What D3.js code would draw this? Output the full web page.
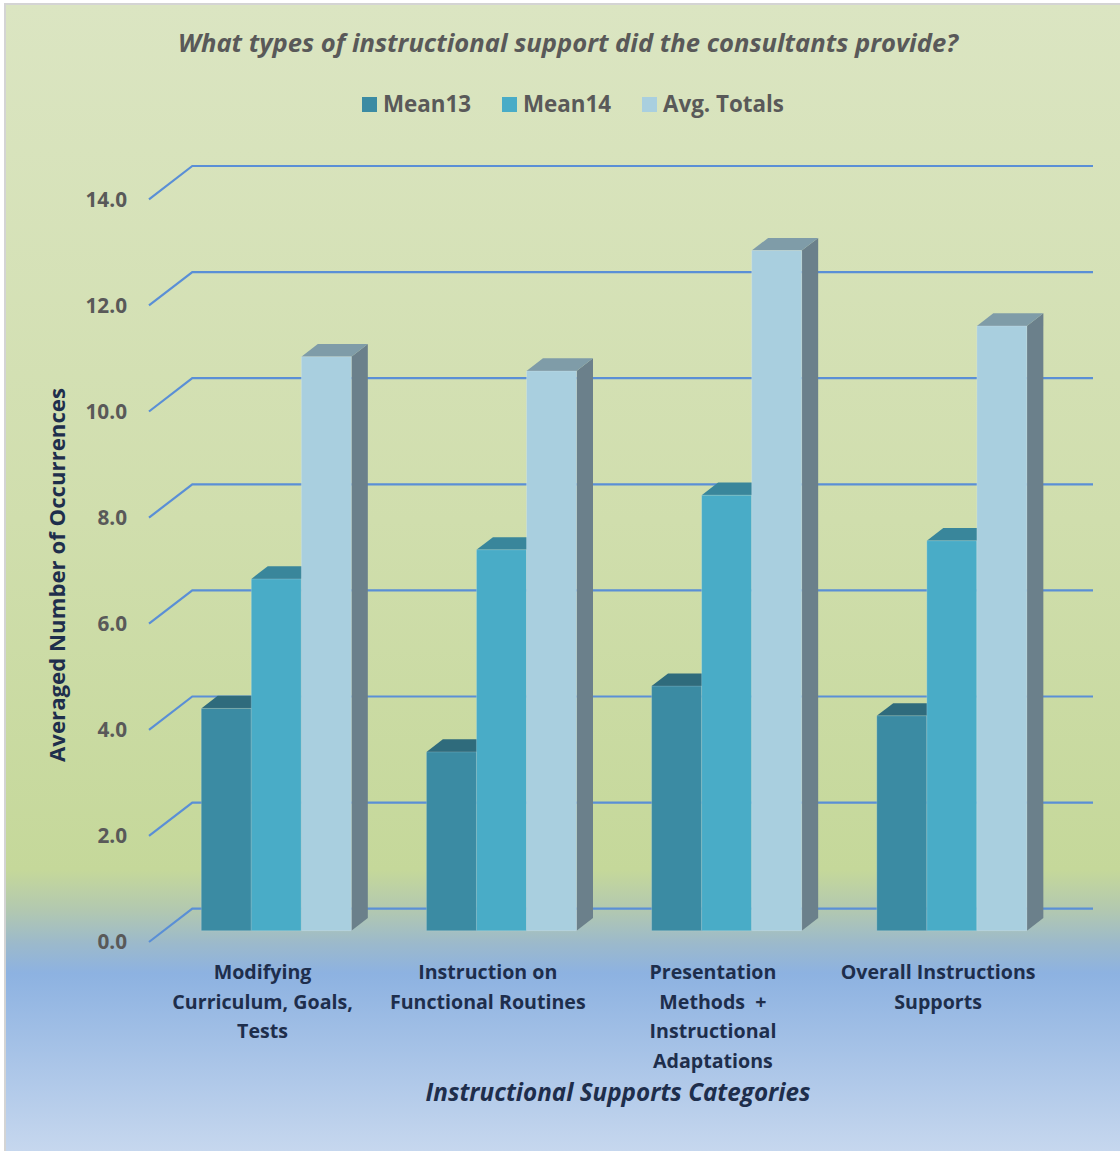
<!DOCTYPE html>
<html>
<head>
<meta charset="utf-8">
<script src="https://cdn.jsdelivr.net/npm/d3@7"></script>
<style>
  html, body { margin: 0; padding: 0; background: #ffffff; }
  svg { display: block; }
  text { font-family: "Open Sans", Lato, sans-serif; }
</style>
</head>
<body>
<svg id="chart" width="1120" height="1151"></svg>
<script>
// ---- data ----
const categories = [
  "Modifying Curriculum, Goals, Tests",
  "Instruction on Functional Routines",
  "Presentation Methods + Instructional Adaptations",
  "Overall Instructions Supports"
];
const categoryLines = [
  ["Modifying", "Curriculum, Goals,", "Tests"],
  ["Instruction on", "Functional Routines"],
  ["Presentation", "Methods  +", "Instructional", "Adaptations"],
  ["Overall Instructions", "Supports"]
];
const seriesNames = ["Mean13", "Mean14", "Avg. Totals"];
const mean13 = [4.19, 3.37, 4.61, 4.05];
const mean14 = [6.63, 7.18, 8.21, 7.35];
const avgTotals = [10.82, 10.55, 12.82, 11.40];
const yTicks = [0, 2, 4, 6, 8, 10, 12, 14];

const seriesValues = [mean13, mean14, avgTotals];
const frontColors = ["#3b8ba3", "#49acc7", "#a9cfdf"];
const topColors   = ["#2f6b7c", "#39869b", "#7f9ca8"];
const sideColors  = ["#2a6070", "#357d91", "#6b808b"];

const svg = d3.select("#chart");
const W = 1120, H = 1151;

// scale a text's font size so that it spans the given width
function fitWidth(sel, width) {
  const node = sel.node();
  const fs = parseFloat(sel.attr("font-size"));
  const w = node.getComputedTextLength();
  sel.attr("font-size", (fs * width / w).toFixed(2));
  return fs * width / w;
}

// ---- background ----
const defs = svg.append("defs");
const bg = defs.append("linearGradient")
  .attr("id", "bgGrad").attr("x1", 0).attr("y1", 0).attr("x2", 0).attr("y2", 1);
[
  [0.00, "#dbe5c2"],
  [0.45, "#d0dead"],
  [0.755, "#c5d89a"],
  [0.79, "#b2c8b0"],
  [0.82, "#9bb9cc"],
  [0.845, "#8db2e1"],
  [1.00, "#c6d7ee"]
].forEach(([o, c]) => bg.append("stop").attr("offset", o).attr("stop-color", c));

svg.append("rect").attr("x", 5).attr("y", 4).attr("width", W - 5).attr("height", H - 4)
  .attr("fill", "url(#bgGrad)");
svg.append("path")
  .attr("d", `M5,${H} L5,4 L${W},4`)
  .attr("fill", "none").attr("stroke", "#d4d4d4").attr("stroke-width", 2);

// ---- 3D projection ----
const DX = 43.3, DY = 33.3;          // offset of the back wall
const Z0 = 0.34, Z1 = 0.72;          // bar depth span
const y = d3.scaleLinear().domain([0, 14]).range([942, 199.3]);
const x = d3.scaleBand().domain(categories).range([149, 1049.7]).padding(0);
const xs = d3.scaleBand().domain(seriesNames).range([0, x.bandwidth()])
  .paddingInner(0).paddingOuter(0.75);
const P = (px, v, z) => [px + z * DX, y(v) - z * DY];
const poly = pts => "M" + pts.map(p => p.join(",")).join("L") + "Z";

// ---- gridlines (left wall + back wall) ----
const grid = svg.append("g");
yTicks.forEach(t => {
  const a = P(x.range()[0], t, 0), b = P(x.range()[0], t, 1), c = P(x.range()[1], t, 1);
  grid.append("path")
    .attr("d", `M${a}L${b}L${c}`)
    .attr("fill", "none").attr("stroke", "#5a8fd6").attr("stroke-width", 2.2);
});

// ---- y tick labels ----
const tickG = svg.append("g");
const tickLabels = tickG.selectAll("text").data(yTicks).join("text")
  .attr("x", 127).attr("y", d => y(d))
  .attr("dy", "0.36em")
  .attr("text-anchor", "end")
  .attr("font-size", 20).attr("font-weight", 700).attr("fill", "#595959")
  .text(d => d.toFixed(1));
{
  const s = fitWidth(d3.select(tickLabels.nodes()[7]), 41.5);
  tickLabels.attr("font-size", s.toFixed(2));
}

// ---- bars ----
const bars = svg.append("g");
categories.forEach((cat, ci) => {
  seriesNames.forEach((s, si) => {
    const v = seriesValues[si][ci];
    const x0 = x(cat) + xs(s), x1 = x0 + xs.bandwidth();
    const g = bars.append("g");
    g.append("path")
      .attr("d", poly([P(x1, 0, Z0), P(x1, 0, Z1), P(x1, v, Z1), P(x1, v, Z0)]))
      .attr("fill", sideColors[si]);
    g.append("path")
      .attr("d", poly([P(x0, v, Z0), P(x1, v, Z0), P(x1, v, Z1), P(x0, v, Z1)]))
      .attr("fill", topColors[si]);
    g.append("path")
      .attr("d", poly([P(x0, 0, Z0), P(x1, 0, Z0), P(x1, v, Z0), P(x0, v, Z0)]))
      .attr("fill", frontColors[si])
      .attr("stroke", "rgba(255,255,255,0.18)").attr("stroke-width", 1);
  });
});

// ---- category labels ----
const catG = svg.append("g");
// size the category font from one reference line
const probe = catG.append("text").attr("font-size", 20).attr("font-weight", 700)
  .text(categoryLines[1][1]);
const catSize = fitWidth(probe, 196);
probe.remove();
categories.forEach((cat, ci) => {
  const cx = x(cat) + x.bandwidth() / 2 + 1;
  const t = catG.append("text")
    .attr("x", cx).attr("y", 979)
    .attr("text-anchor", "middle")
    .attr("font-size", catSize.toFixed(2)).attr("font-weight", 700).attr("fill", "#1e2e4c");
  categoryLines[ci].forEach((line, li) => {
    t.append("tspan").attr("x", cx).attr("y", 979 + li * 29.5)
      .style("white-space", "pre").text(line);
  });
});

// ---- titles ----
const title = svg.append("text")
  .attr("x", 568).attr("y", 52)
  .attr("text-anchor", "middle")
  .attr("font-size", 24).attr("font-weight", 700).attr("font-style", "italic")
  .attr("fill", "#595959")
  .text("What types of instructional support did the consultants provide?");
fitWidth(title, 780);

const yTitle = svg.append("text")
  .attr("transform", "translate(65,575) rotate(-90)")
  .attr("text-anchor", "middle")
  .attr("font-size", 21).attr("font-weight", 700)
  .attr("fill", "#1e2e4c")
  .text("Averaged Number of Occurrences");
fitWidth(yTitle, 374);

const xTitle = svg.append("text")
  .attr("x", 618).attr("y", 1101)
  .attr("text-anchor", "middle")
  .attr("font-size", 22).attr("font-weight", 700).attr("font-style", "italic")
  .attr("fill", "#1e2e4c")
  .text("Instructional Supports Categories");
fitWidth(xTitle, 385);

// ---- legend ----
const legendX = [362, 502, 642];
const lg = svg.append("g");
const legendTexts = [];
seriesNames.forEach((s, i) => {
  lg.append("rect").attr("x", legendX[i]).attr("y", 97).attr("width", 15).attr("height", 15)
    .attr("fill", frontColors[i]);
  legendTexts.push(lg.append("text").attr("x", legendX[i] + 21).attr("y", 112)
    .attr("font-size", 22).attr("font-weight", 700).attr("fill", "#595959")
    .text(s));
});
{
  const s = fitWidth(legendTexts[2], 121);
  legendTexts.forEach(t => t.attr("font-size", s.toFixed(2)));
}
</script>
</body>
</html>
